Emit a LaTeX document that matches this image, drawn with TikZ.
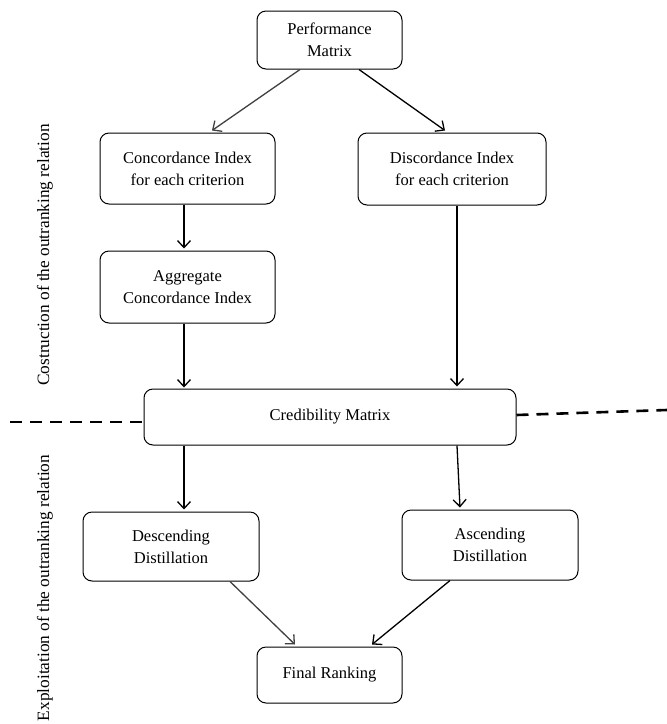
\documentclass[tikz,border=0pt]{standalone}
\usepackage{fontspec}
\setmainfont{Liberation Serif}
\usetikzlibrary{arrows.meta}
\begin{document}
\begin{tikzpicture}[x=1pt,y=-1pt,
  box/.style={draw, line width=1pt, rounded corners=9pt, align=center, inner sep=0pt,
    font=\fontsize{16.5}{22}\selectfont},
  arr/.style={line width=1.3pt, -{Straight Barb[length=7pt,width=13pt,line width=1.3pt]}},
  sep/.style={line width=2.6pt, dash pattern=on 12pt off 8pt},
  side/.style={rotate=90, font=\fontsize{17.3}{20}\selectfont}]
\useasboundingbox (0,0) rectangle (667,724);
\node[box, minimum width=145pt, minimum height=58pt] (perf) at (329.5,40) {Performance\\Matrix};
\node[box, minimum width=175pt, minimum height=71pt] (conc) at (187.5,168.5) {Concordance Index\\for each criterion};
\node[box, minimum width=188pt, minimum height=72pt] (disc) at (452,169) {Discordance Index\\for each criterion};
\node[box, minimum width=175pt, minimum height=72pt] (agg) at (187.5,287) {Aggregate\\Concordance Index};
\node[box, minimum width=372pt, minimum height=56pt] (cred) at (330,417) {Credibility Matrix};
\node[box, minimum width=176pt, minimum height=69pt] (desc) at (171,546.5) {Descending\\Distillation};
\node[box, minimum width=176pt, minimum height=70pt] (asc) at (490,545) {Ascending\\Distillation};
\node[box, minimum width=145pt, minimum height=56pt] (final) at (329.5,675) {Final Ranking};

\node[side] (lab1) at (45,255) {Costruction of the outranking relation};
\node[side] (lab2) at (45,588) {Exploitation of the outranking relation};

\draw[arr, draw=black!75] ([xshift=-29.5pt]perf.south) -- ([xshift=24.5pt,yshift=2pt]conc.north);
\draw[arr] ([xshift=29.5pt]perf.south) -- ([xshift=-7pt,yshift=2pt]disc.north);
\draw[arr] ([xshift=-3.5pt]conc.south) -- ([xshift=-3.5pt,yshift=2pt]agg.north);
\draw[arr] ([xshift=-3.5pt]agg.south) -- ([xshift=-146pt,yshift=1pt]cred.north);
\draw[arr] ([xshift=5pt]disc.south) -- ([xshift=127pt,yshift=2pt]cred.north);
\draw[arr] ([xshift=-146pt]cred.south) -- ([xshift=13pt,yshift=2pt]desc.north);
\draw[arr] ([xshift=127pt]cred.south) -- ([xshift=-30pt,yshift=2pt]asc.north);
\draw[arr, draw=black!75] ([xshift=59pt]desc.south) -- ([xshift=-34.5pt,yshift=2pt]final.north);
\draw[arr] ([xshift=-40pt]asc.south) -- ([xshift=42.5pt,yshift=2pt]final.north);

\coordinate (dl) at (10,422);
\coordinate (dr) at (667,410);
\draw[sep] (dl) -- ([yshift=-5pt]cred.west);
\draw[sep] ([yshift=2pt]cred.east) -- (dr);
\end{tikzpicture}
\end{document}
